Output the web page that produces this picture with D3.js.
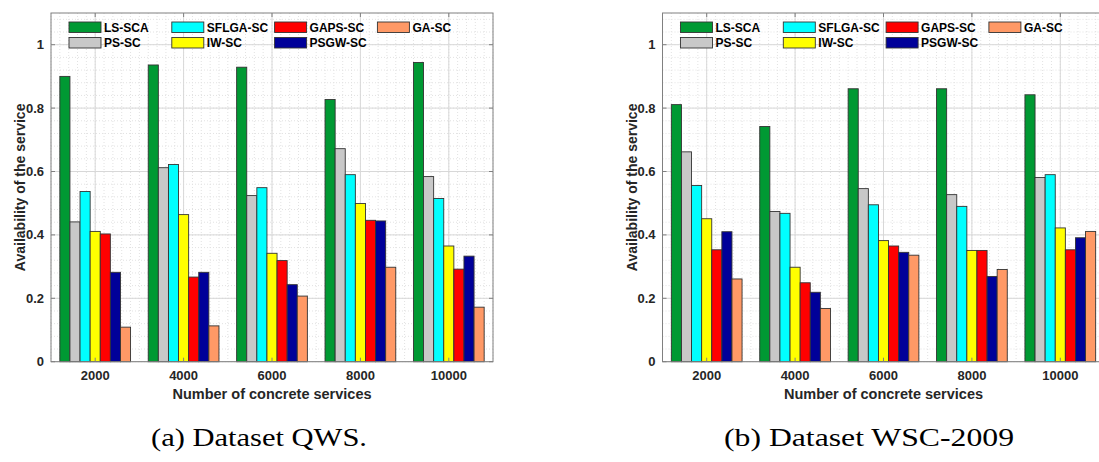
<!DOCTYPE html>
<html lang="en">
<head>
    <meta charset="UTF-8">
    <title>Availability of the service</title>
    <script src="https://cdn.jsdelivr.net/npm/d3@7"></script>
    <style>
        body {
            margin: 0;
            background-color: #fff;
        }

        svg {
            display: block;
        }
    </style>
</head>
<body>
    <svg id="chart" width="1099" height="462"></svg>

    <script>
        const categories = ["2000", "4000", "6000", "8000", "10000"];
        const series = ["LS-SCA", "PS-SC", "SFLGA-SC", "IW-SC", "GAPS-SC", "PSGW-SC", "GA-SC"];
        const colors = ["#009933", "#c8c8c8", "#00ffff", "#ffff00", "#ff0000", "#000099", "#ff9966"];
        const yTicks = [0, 0.2, 0.4, 0.6, 0.8, 1];

        // values per category, in series order
        const qwsValues = [
            [0.900, 0.441, 0.537, 0.411, 0.403, 0.282, 0.109],
            [0.936, 0.612, 0.622, 0.464, 0.267, 0.282, 0.113],
            [0.929, 0.524, 0.549, 0.342, 0.319, 0.243, 0.207],
            [0.827, 0.672, 0.590, 0.499, 0.446, 0.444, 0.298],
            [0.944, 0.584, 0.515, 0.365, 0.292, 0.333, 0.172]
        ];
        const wscValues = [
            [0.811, 0.662, 0.556, 0.451, 0.353, 0.410, 0.261],
            [0.742, 0.474, 0.468, 0.298, 0.249, 0.219, 0.168],
            [0.861, 0.546, 0.495, 0.382, 0.365, 0.345, 0.336],
            [0.861, 0.527, 0.490, 0.351, 0.351, 0.269, 0.291],
            [0.842, 0.581, 0.590, 0.422, 0.353, 0.391, 0.411]
        ];

        // legend order: two rows, four columns
        const legendOrder = ["LS-SCA", "SFLGA-SC", "GAPS-SC", "GA-SC", "PS-SC", "IW-SC", "PSGW-SC"];

        const svg = d3.select("#chart");
        const font = "'Liberation Sans', Arial, sans-serif";
        const textColor = "#262626";

        function drawPanel(left, values, caption, captionX, captionLen) {
            const top = 13;
            const w = 442;
            const h = 348.7;

            const x = d3.scaleLinear().domain([0.5, 5.5]).range([0, w]);
            const y = d3.scaleLinear().domain([0, 1.1]).range([h, 0]);
            const inner = d3.scaleBand().domain(series).range([-0.4, 0.4]).padding(0);

            const g = svg.append("g").attr("transform", `translate(${left},${top})`);

            // minor grid
            const minorY = d3.range(0, 1.1001, 0.04);
            g.append("g").selectAll("line").data(minorY).join("line")
                .attr("x1", 0).attr("x2", w)
                .attr("y1", d => y(d)).attr("y2", d => y(d))
                .attr("stroke", "#e2e2e2").attr("stroke-dasharray", "1,2");
            const minorX = d3.range(0.5, 5.5001, 0.1);
            g.append("g").selectAll("line").data(minorX).join("line")
                .attr("x1", d => x(d)).attr("x2", d => x(d))
                .attr("y1", 0).attr("y2", h)
                .attr("stroke", "#e2e2e2").attr("stroke-dasharray", "1,2");

            // major grid
            g.append("g").selectAll("line").data(yTicks).join("line")
                .attr("x1", 0).attr("x2", w)
                .attr("y1", d => y(d)).attr("y2", d => y(d))
                .attr("stroke", "#d8d8d8");
            g.append("g").selectAll("line").data(d3.range(1, 6)).join("line")
                .attr("x1", d => x(d)).attr("x2", d => x(d))
                .attr("y1", 0).attr("y2", h)
                .attr("stroke", "#d8d8d8");

            // bars
            categories.forEach((c, i) => {
                g.append("g").selectAll("rect").data(values[i]).join("rect")
                    .attr("x", (d, j) => x(i + 1 + inner(series[j])))
                    .attr("width", x(inner.bandwidth()) - x(0))
                    .attr("y", d => y(d))
                    .attr("height", d => y(0) - y(d))
                    .attr("fill", (d, j) => colors[j])
                    .attr("stroke", "#333")
                    .attr("stroke-width", 0.9);
            });

            // box and ticks
            g.append("rect").attr("width", w).attr("height", h)
                .attr("fill", "none").attr("stroke", "#808080");

            g.append("g").selectAll("line").data(yTicks).join("line")
                .attr("x1", 0).attr("x2", 4)
                .attr("y1", d => y(d)).attr("y2", d => y(d))
                .attr("stroke", "#808080");
            g.append("g").selectAll("line").data(yTicks).join("line")
                .attr("x1", w - 4).attr("x2", w)
                .attr("y1", d => y(d)).attr("y2", d => y(d))
                .attr("stroke", "#808080");
            g.append("g").selectAll("line").data(d3.range(1, 6)).join("line")
                .attr("x1", d => x(d)).attr("x2", d => x(d))
                .attr("y1", h).attr("y2", h - 4)
                .attr("stroke", "#808080");
            g.append("g").selectAll("line").data(d3.range(1, 6)).join("line")
                .attr("x1", d => x(d)).attr("x2", d => x(d))
                .attr("y1", 0).attr("y2", 4)
                .attr("stroke", "#808080");

            // tick labels
            g.append("g").selectAll("text").data(yTicks).join("text")
                .attr("x", -7)
                .attr("y", d => y(d))
                .attr("dy", "0.35em")
                .attr("text-anchor", "end")
                .attr("font-family", font)
                .attr("font-weight", "bold")
                .attr("font-size", "13px")
                .attr("fill", textColor)
                .text(d => d3.format("~g")(d));

            g.append("g").selectAll("text").data(categories).join("text")
                .attr("x", (d, i) => x(i + 1))
                .attr("y", h + 18.5)
                .attr("text-anchor", "middle")
                .attr("font-family", font)
                .attr("font-weight", "bold")
                .attr("font-size", "13px")
                .attr("fill", textColor)
                .text(d => d);

            // axis titles
            g.append("text")
                .attr("x", w / 2)
                .attr("y", h + 37.5)
                .attr("text-anchor", "middle")
                .attr("font-family", font)
                .attr("font-weight", "bold")
                .attr("font-size", "14.5px")
                .attr("fill", textColor)
                .text("Number of concrete services");

            g.append("text")
                .attr("transform", `translate(-26,${h / 2}) rotate(-90)`)
                .attr("text-anchor", "middle")
                .attr("font-family", font)
                .attr("font-weight", "bold")
                .attr("font-size", "14px")
                .attr("fill", textColor)
                .text("Availability of the service");

            // legend
            const leg = g.append("g").selectAll("g").data(legendOrder).join("g")
                .attr("transform", (d, k) => `translate(${18 + (k % 4) * 102.8},${k < 4 ? 9 : 24.5})`);
            leg.append("rect")
                .attr("width", 32).attr("height", 10.5)
                .attr("fill", d => colors[series.indexOf(d)])
                .attr("stroke", "#333")
                .attr("stroke-width", 0.9);
            leg.append("text")
                .attr("x", 35)
                .attr("y", 5.5)
                .attr("dy", "0.35em")
                .attr("font-family", font)
                .attr("font-weight", "bold")
                .attr("font-size", "12px")
                .attr("fill", "#000")
                .text(d => d);

            // caption
            svg.append("text")
                .attr("x", captionX)
                .attr("y", 446)
                .attr("text-anchor", "middle")
                .attr("font-family", "'Liberation Serif', 'DejaVu Serif', serif")
                .attr("font-size", "25px")
                .attr("textLength", captionLen)
                .attr("lengthAdjust", "spacingAndGlyphs")
                .attr("fill", "#000")
                .text(caption);
        }

        drawPanel(51, qwsValues, "(a) Dataset QWS.", 259, 216);
        drawPanel(662.5, wscValues, "(b) Dataset WSC-2009", 869, 290);
    </script>
</body>
</html>
